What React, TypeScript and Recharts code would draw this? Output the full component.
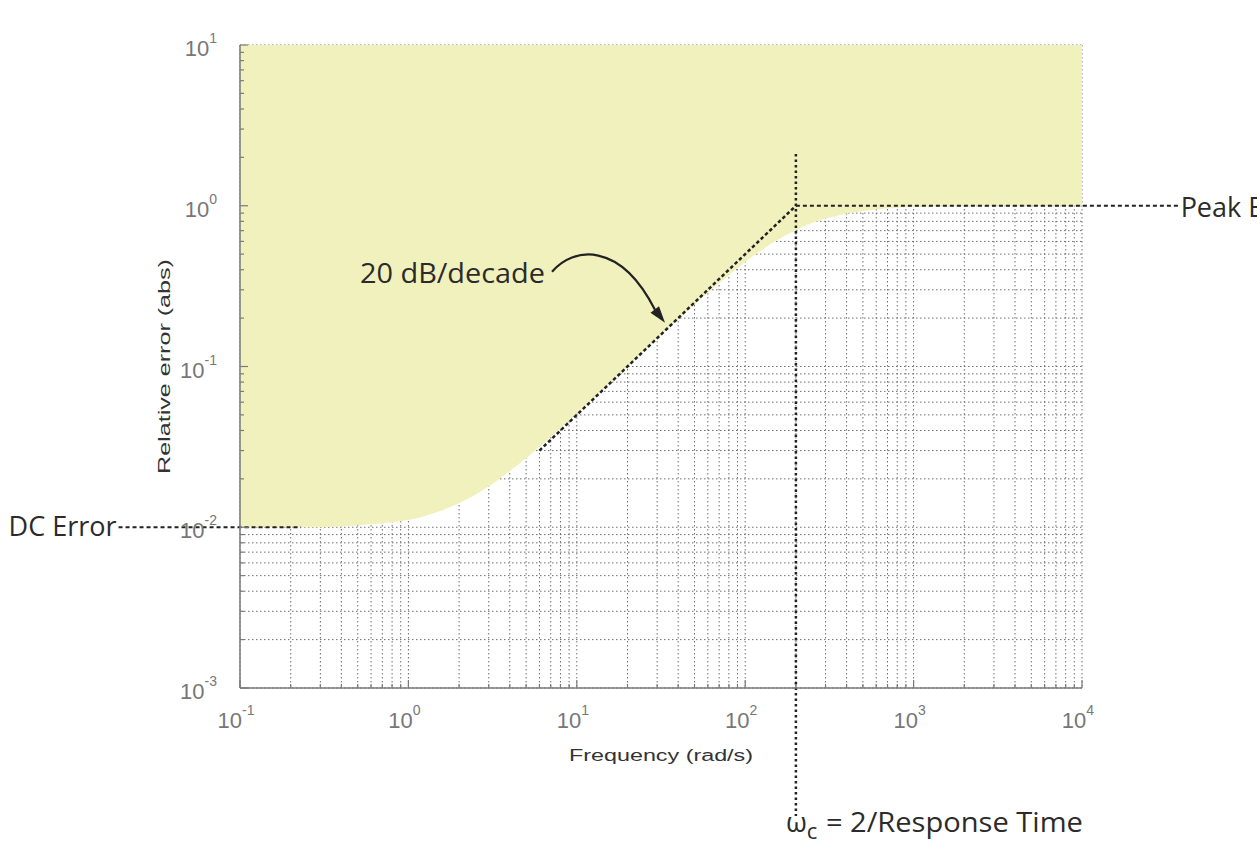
import React from 'react';
import {
  ComposedChart,
  Area,
  XAxis,
  YAxis,
  CartesianGrid,
  ReferenceLine,
  ReferenceDot,
  Label,
} from 'recharts';

// boundary of the allowed region
const frequency = [0.1, 0.2, 0.3, 0.5, 0.7, 1, 1.5, 2, 3, 4, 5, 7, 10, 15, 20, 30, 50, 70, 100, 150, 200, 300, 500, 700, 1000, 2000, 5000, 10000];
const errorBound = [0.01, 0.01, 0.01, 0.0103, 0.0106, 0.0111, 0.0125, 0.0141, 0.018, 0.0224, 0.0269, 0.0364, 0.051, 0.075, 0.1, 0.149, 0.243, 0.33, 0.447, 0.6, 0.707, 0.832, 0.929, 0.962, 0.981, 0.995, 0.999, 1.0];
const errorCeiling = 10;

const xMajorTicks = [0.1, 1, 10, 100, 1000, 10000];
const yMajorTicks = [0.001, 0.01, 0.1, 1, 10];
const minorSteps = [1, 2, 3, 4, 5, 6, 7, 8, 9];

const dcError = 0.01;
const peakError = 1;
const crossover = 200;
const asymptoteStart = { x: 6, y: 0.03 };

const data = frequency.map((f, i) => ({ f, bound: errorBound[i], ceiling: errorCeiling }));
const xTicks = xMajorTicks.slice(0, -1).flatMap((m) => minorSteps.map((k) => m * k)).concat([10000]);
const yTicks = yMajorTicks.slice(0, -1).flatMap((m) => minorSteps.map((k) => m * k)).concat([10]);

const isMajor = (v: number) => Math.abs(Math.log10(v) - Math.round(Math.log10(v))) < 1e-6;

const AXIS_GREY = '#7a7a7a';
const TICK_FONT = '"Liberation Sans", Arial, sans-serif';
const NOTE_FONT = '"Open Sans", "Noto Sans", sans-serif';

function XTick(props: any) {
  const { x, y, payload, side } = props;
  const major = isMajor(payload.value);
  const len = major ? 8 : 4;
  const dir = side === 'top' ? 1 : -1;
  const exp = Math.round(Math.log10(payload.value));
  return (
    <g>
      <line x1={x} y1={y} x2={x} y2={y + dir * len} stroke={AXIS_GREY} strokeWidth={1.2} />
      {major && side === 'bottom' && (
        <text x={x - 4} y={y + 40} textAnchor="middle" style={{ fontFamily: TICK_FONT, fontSize: 22 }} fill="#777">
          10
          <tspan dy={-13} style={{ fontSize: 14 }}>{exp}</tspan>
        </text>
      )}
    </g>
  );
}

function YTick(props: any) {
  const { x, y, payload, side } = props;
  const major = isMajor(payload.value);
  const len = major ? 8 : 4;
  const dir = side === 'right' ? -1 : 1;
  const exp = Math.round(Math.log10(payload.value));
  return (
    <g>
      <line x1={x} y1={y} x2={x + dir * len} y2={y} stroke={AXIS_GREY} strokeWidth={1.2} />
      {major && side === 'left' && (
        <text x={x - 23} y={y + 11} textAnchor="end" style={{ fontFamily: TICK_FONT, fontSize: 22 }} fill="#777">
          10
          <tspan dy={-13} style={{ fontSize: 14 }}>{exp}</tspan>
        </text>
      )}
    </g>
  );
}

const noteProps = { fontFamily: NOTE_FONT, fontSize: 27, fill: '#2b2b2b' };

export default function App() {
  return (
    <div style={{ position: 'absolute', left: 0, top: 0, background: '#fff' }}>
      <ComposedChart
        width={1257}
        height={845}
        data={data}
        margin={{ top: 45, right: 175, bottom: 97, left: 160 }}
      >
        <CartesianGrid stroke="#6f6f6f" strokeDasharray="1.5 2.5" strokeWidth={1} />
        <XAxis
          dataKey="f"
          type="number"
          scale="log"
          domain={[0.1, 10000]}
          allowDataOverflow
          ticks={xTicks}
          interval={0}
          height={60}
          tickSize={0}
          tickMargin={0}
          tickLine={false}
          axisLine={{ stroke: AXIS_GREY, strokeWidth: 1.5 }}
          tick={(p: any) => <XTick {...p} side="bottom" />}
        >
          <Label
            content={({ viewBox }: any) => (
              <text
                x={viewBox.x + viewBox.width / 2}
                y={viewBox.y + 73}
                textAnchor="middle"
                fontFamily={TICK_FONT}
                fontSize={16}
                fill="#333"
                textLength={184}
                lengthAdjust="spacingAndGlyphs"
              >
                Frequency (rad/s)
              </text>
            )}
          />
        </XAxis>
        <XAxis
          xAxisId="top"
          orientation="top"
          type="number"
          scale="log"
          domain={[0.1, 10000]}
          allowDataOverflow
          ticks={xTicks}
          interval={0}
          height={0}
          tickSize={0}
          tickMargin={0}
          tickLine={false}
          axisLine={{ stroke: AXIS_GREY, strokeWidth: 1.5 }}
          tick={(p: any) => <XTick {...p} side="top" />}
        >
          <Label
            content={({ viewBox }: any) => (
              <text
                x={viewBox.x + viewBox.width / 2 - 4}
                y={viewBox.y + viewBox.height - 19}
                textAnchor="middle"
                fontFamily={TICK_FONT}
                fontSize={16}
                fill="#222"
                textLength={547}
                lengthAdjust="spacingAndGlyphs"
              >
                Requirement 1: Tracking error as a function of frequency
              </text>
            )}
          />
        </XAxis>
        <YAxis
          type="number"
          scale="log"
          domain={[0.001, 10]}
          allowDataOverflow
          ticks={yTicks}
          interval={0}
          width={80}
          tickSize={0}
          tickMargin={0}
          tickLine={false}
          axisLine={{ stroke: AXIS_GREY, strokeWidth: 1.5 }}
          tick={(p: any) => <YTick {...p} side="left" />}
        >
          <Label
            content={({ viewBox }: any) => {
              const cx = viewBox.x + 10;
              const cy = viewBox.y + viewBox.height / 2;
              return (
                <text
                  x={cx}
                  y={cy}
                  transform={`rotate(-90 ${cx} ${cy})`}
                  textAnchor="middle"
                  fontFamily={TICK_FONT}
                  fontSize={16}
                  fill="#333"
                  textLength={215}
                  lengthAdjust="spacingAndGlyphs"
                >
                  Relative error (abs)
                </text>
              );
            }}
          />
        </YAxis>
        <YAxis
          yAxisId="right"
          orientation="right"
          type="number"
          scale="log"
          domain={[0.001, 10]}
          allowDataOverflow
          ticks={yTicks}
          interval={0}
          width={0}
          tickSize={0}
          tickMargin={0}
          tickLine={false}
          axisLine={{ stroke: AXIS_GREY, strokeWidth: 1.5 }}
          tick={(p: any) => <YTick {...p} side="right" />}
        />

        <Area
          type="monotone"
          dataKey={(d: any) => [d.bound, d.ceiling]}
          fill="#F1F1BD"
          fillOpacity={1}
          stroke="none"
          dot={false}
          activeDot={false}
          isAnimationActive={false}
        />

        {/* asymptote, 20 dB/decade */}
        <ReferenceLine
          segment={[asymptoteStart, { x: crossover, y: peakError }]}
          stroke="#222"
          strokeWidth={2.5}
          strokeDasharray="3.5 2.5"
          ifOverflow="visible"
        />
        {/* peak error */}
        <ReferenceLine
          segment={[{ x: crossover, y: peakError }, { x: 38000, y: peakError }]}
          stroke="#222"
          strokeWidth={1.8}
          strokeDasharray="4 3"
          ifOverflow="visible"
        />
        {/* dc error */}
        <ReferenceLine
          segment={[{ x: 0.019, y: dcError }, { x: 0.23, y: dcError }]}
          stroke="#222"
          strokeWidth={1.8}
          strokeDasharray="4 3"
          ifOverflow="visible"
        />
        {/* crossover frequency */}
        <ReferenceLine
          segment={[{ x: crossover, y: 2.1 }, { x: crossover, y: 0.00016 }]}
          stroke="#222"
          strokeWidth={2.5}
          strokeDasharray="2.5 3"
          ifOverflow="visible"
        />

        <ReferenceDot
          x={0.019}
          y={dcError}
          ifOverflow="visible"
          shape={(p: any) => (
            <text x={p.cx - 2} y={p.cy + 9} textAnchor="end" {...noteProps} textLength={108} lengthAdjust="spacingAndGlyphs">
              DC Error
            </text>
          )}
        />
        <ReferenceDot
          x={38000}
          y={peakError}
          ifOverflow="visible"
          shape={(p: any) => (
            <text x={p.cx + 1} y={p.cy + 11} {...noteProps}>
              Peak Error
            </text>
          )}
        />
        <ReferenceDot
          x={33.4}
          y={0.187}
          ifOverflow="visible"
          shape={(p: any) => (
            <g>
              <text x={p.cx - 120} y={p.cy - 40} textAnchor="end" {...noteProps} textLength={185} lengthAdjust="spacingAndGlyphs">
                20 dB/decade
              </text>
              <path
                d={`M ${p.cx - 113} ${p.cy - 51} C ${p.cx - 92} ${p.cy - 76}, ${p.cx - 45} ${p.cy - 82}, ${p.cx - 10} ${p.cy - 13}`}
                fill="none"
                stroke="#222"
                strokeWidth={2.2}
              />
              <polygon
                points={`${p.cx},${p.cy} ${p.cx - 14.5},${p.cy - 10} ${p.cx - 6},${p.cy - 16.5}`}
                fill="#222"
              />
            </g>
          )}
        />
        <ReferenceDot
          x={crossover}
          y={0.00016}
          ifOverflow="visible"
          shape={(p: any) => (
            <g>
              <text x={p.cx - 10} y={p.cy + 16} {...noteProps}>
                ω
                <tspan dy={7} fontSize={22}>c</tspan>
              </text>
              <text x={p.cx + 30} y={p.cy + 16} {...noteProps} textLength={257} lengthAdjust="spacingAndGlyphs">
                = 2/Response Time
              </text>
            </g>
          )}
        />
      </ComposedChart>
    </div>
  );
}
